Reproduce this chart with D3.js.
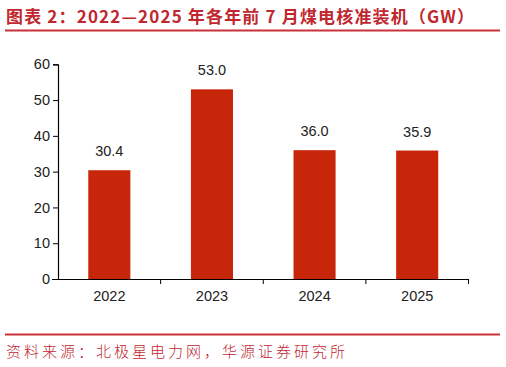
<!DOCTYPE html>
<html><head><meta charset="utf-8">
<script src="https://cdn.jsdelivr.net/npm/d3@7"></script>
<style>body{margin:0;background:#fff;}svg{display:block;}</style>
</head><body>
<svg id="c" width="506" height="367"></svg>
<script>
const categories = ["2022","2023","2024","2025"];
const values = [30.4, 53.0, 36.0, 35.9];
const yTicks = [0,10,20,30,40,50,60];
const titleText = "图表 2：2022—2025 年各年前 7 月煤电核准装机（GW）";
const sourceText = "资料来源：北极星电力网，华源证券研究所";

const svg = d3.select("#c");
const red = "#c9323a";
svg.append("text").attr("x",6).attr("y",23).attr("fill","#c0272f")
  .attr("font-family","'Noto Sans CJK SC', sans-serif").attr("font-weight","bold")
  .attr("font-size",17).attr("textLength",468).attr("lengthAdjust","spacing").text(titleText);
svg.append("line").attr("x1",5).attr("x2",500).attr("y1",30.5).attr("y2",30.5)
  .attr("stroke",red).attr("stroke-width",2);
svg.append("line").attr("x1",5).attr("x2",500).attr("y1",334.5).attr("y2",334.5)
  .attr("stroke",red).attr("stroke-width",2);
svg.append("text").attr("x",6).attr("y",357).attr("fill","#c0272f")
  .attr("font-family","'Noto Sans CJK SC', sans-serif").attr("font-weight",300)
  .attr("font-size",15).attr("textLength",339).attr("lengthAdjust","spacing").text(sourceText);

const x = d3.scaleBand().domain(categories).range([58,468.5]).paddingInner(0.59).paddingOuter(0.295);
const y = d3.scaleLinear().domain([0,60]).range([279,64.3]);

svg.selectAll("rect.bar").data(values).enter().append("rect")
  .attr("x",(d,i)=>x(categories[i])).attr("width",x.bandwidth())
  .attr("y",d=>y(d)).attr("height",d=>y(0)-y(d)).attr("fill","#c8260a");

svg.selectAll("text.lbl").data(values).enter().append("text")
  .attr("x",(d,i)=>x(categories[i])+x.bandwidth()/2).attr("y",d=>y(d)-14)
  .attr("text-anchor","middle").attr("font-family","'Liberation Sans', Arial, sans-serif")
  .attr("font-size",14.5).attr("fill","#222").text(d=>d.toFixed(1));

const yAxis = svg.append("g").attr("transform","translate(58,0)")
  .call(d3.axisLeft(y).tickValues(yTicks).tickSize(5).tickPadding(3));
const xAxis = svg.append("g").attr("transform","translate(0,279)")
  .call(d3.axisBottom(x).tickSize(0).tickPadding(12));
const bounds = [0,1,2,3].map(i=>x.step()*(i+1)+58);
xAxis.selectAll("line.bt").data(bounds).enter().append("line")
  .attr("x1",d=>d).attr("x2",d=>d).attr("y1",0).attr("y2",5).attr("stroke","#000");
[yAxis,xAxis].forEach(g=>{
  g.select(".domain").attr("stroke","#000").attr("stroke-width",1.2);
  g.selectAll("text").attr("font-family","'Liberation Sans', Arial, sans-serif").attr("font-size",14.5).attr("fill","#222");
});
xAxis.select(".domain").attr("d","M52,0.5H468.5");
</script>
</body></html>
